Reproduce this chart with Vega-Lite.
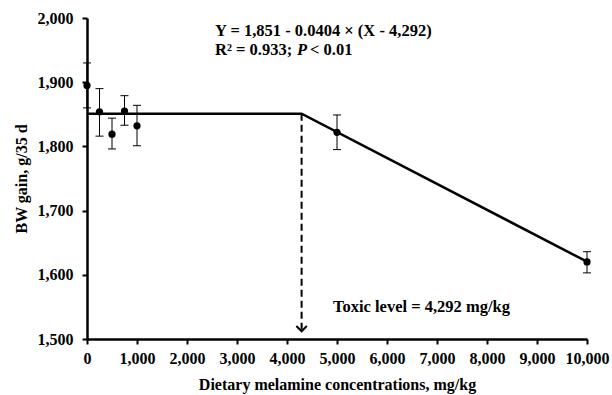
{
  "$schema": "https://vega.github.io/schema/vega-lite/v6.json",
  "width": 500,
  "height": 321,
  "autosize": "none",
  "padding": {"left": 87, "top": 18, "right": 25, "bottom": 56},
  "background": "white",
  "config": {
    "view": {"stroke": null},
    "font": "Liberation Serif",
    "axis": {
      "grid": false,
      "domainColor": "black",
      "domainWidth": 2.5,
      "tickColor": "black",
      "tickWidth": 2,
      "tickSize": 5,
      "labelFont": "Liberation Serif",
      "labelFontWeight": "bold",
      "labelFontSize": 16,
      "labelColor": "black",
      "titleFont": "Liberation Serif",
      "titleFontWeight": "bold",
      "titleFontSize": 16,
      "titleColor": "black"
    }
  },
  "datasets": {
    "obs": [
      {"dose": 0, "bw": 1895, "lo": 1860, "hi": 1930},
      {"dose": 250, "bw": 1854, "lo": 1816, "hi": 1890},
      {"dose": 500, "bw": 1819, "lo": 1796, "hi": 1844},
      {"dose": 750, "bw": 1855, "lo": 1833, "hi": 1879},
      {"dose": 1000, "bw": 1832, "lo": 1801, "hi": 1864},
      {"dose": 5000, "bw": 1822, "lo": 1795, "hi": 1849},
      {"dose": 10000, "bw": 1620, "lo": 1603, "hi": 1636}
    ],
    "fit": [
      {"dose": 0, "bw": 1851},
      {"dose": 4292, "bw": 1851},
      {"dose": 10000, "bw": 1620.4}
    ],
    "arrow": [
      {"dose": 4292, "top": 1851, "tip": 1512}
    ],
    "notes": [
      {"dose": 2560, "bw": 1980, "text": "Y = 1,851 - 0.0404 × (X - 4,292)"},
      {"dose": 2560, "bw": 1950, "text": "R² = 0.933;"},
      {"dose": 4460, "bw": 1950, "text": "< 0.01"},
      {"dose": 4920, "bw": 1550, "text": "Toxic level = 4,292 mg/kg"}
    ],
    "italic": [
      {"dose": 4200, "bw": 1950, "text": "P"}
    ]
  },
  "encoding": {
    "x": {
      "type": "quantitative",
      "scale": {"domain": [0, 10000], "nice": false},
      "axis": {
        "title": "Dietary melamine concentrations, mg/kg",
        "values": [0, 1000, 2000, 3000, 4000, 5000, 6000, 7000, 8000, 9000, 10000],
        "format": ",.0f",
        "labelPadding": 6,
        "titlePadding": 10,
        "labelFlush": false,
        "labelOverlap": false
      }
    },
    "y": {
      "type": "quantitative",
      "scale": {"domain": [1500, 2000], "nice": false, "zero": false},
      "axis": {
        "title": "BW gain, g/35 d",
        "values": [1500, 1600, 1700, 1800, 1900, 2000],
        "format": ",.0f",
        "labelPadding": 9,
        "titlePadding": 8
      }
    }
  },
  "layer": [
    {
      "data": {"name": "fit"},
      "mark": {"type": "line", "color": "black", "strokeWidth": 2.5},
      "encoding": {"x": {"field": "dose"}, "y": {"field": "bw"}}
    },
    {
      "data": {"name": "arrow"},
      "mark": {"type": "rule", "color": "black", "strokeWidth": 2, "strokeDash": [7, 4]},
      "encoding": {"x": {"field": "dose"}, "y": {"field": "top"}, "y2": {"field": "tip"}}
    },
    {
      "data": {"name": "arrow"},
      "mark": {"type": "point", "shape": "M-1,-1L0,0L1,-1", "filled": false, "color": "black", "strokeWidth": 2, "size": 110, "opacity": 1},
      "encoding": {"x": {"field": "dose"}, "y": {"field": "tip"}}
    },
    {
      "data": {"name": "obs"},
      "mark": {"type": "rule", "color": "black", "strokeWidth": 1},
      "encoding": {"x": {"field": "dose"}, "y": {"field": "lo"}, "y2": {"field": "hi"}}
    },
    {
      "data": {"name": "obs"},
      "mark": {"type": "tick", "orient": "horizontal", "color": "black", "size": 8, "thickness": 1, "opacity": 1},
      "encoding": {"x": {"field": "dose"}, "y": {"field": "lo"}}
    },
    {
      "data": {"name": "obs"},
      "mark": {"type": "tick", "orient": "horizontal", "color": "black", "size": 8, "thickness": 1, "opacity": 1},
      "encoding": {"x": {"field": "dose"}, "y": {"field": "hi"}}
    },
    {
      "data": {"name": "obs"},
      "mark": {"type": "circle", "color": "black", "size": 52, "opacity": 1},
      "encoding": {"x": {"field": "dose"}, "y": {"field": "bw"}}
    },
    {
      "data": {"name": "notes"},
      "mark": {"type": "text", "align": "left", "baseline": "middle", "fontSize": 16.5, "fontWeight": "bold", "font": "Liberation Serif", "color": "black"},
      "encoding": {
        "x": {"field": "dose"},
        "y": {"field": "bw"},
        "text": {"field": "text"}
      }
    },
    {
      "data": {"name": "italic"},
      "mark": {"type": "text", "align": "left", "baseline": "middle", "fontSize": 16.5, "fontWeight": "bold", "fontStyle": "italic", "font": "Liberation Serif", "color": "black"},
      "encoding": {
        "x": {"field": "dose"},
        "y": {"field": "bw"},
        "text": {"field": "text"}
      }
    }
  ]
}
